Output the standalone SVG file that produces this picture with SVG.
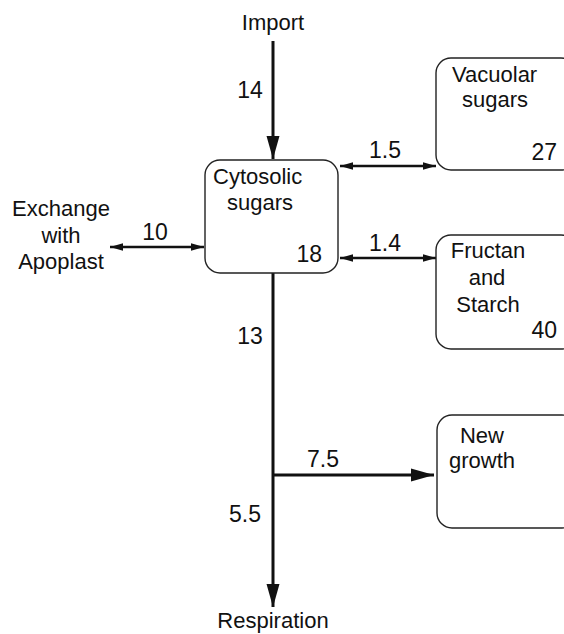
<svg xmlns="http://www.w3.org/2000/svg" width="564" height="634" viewBox="0 0 564 634">
<style>
text{font-family:"Liberation Sans",Arial,sans-serif;font-size:22px;fill:#111}
.num{font-size:23px}
.box{fill:#fff;stroke:#222;stroke-width:1.4}
.thin{stroke:#111;stroke-width:2.4;fill:none}
.thick{stroke:#111;stroke-width:3;fill:none}
</style>
<defs>
<marker id="sm" markerUnits="userSpaceOnUse" markerWidth="14" markerHeight="10" refX="13" refY="5" orient="auto-start-reverse">
<path d="M0,1.2 L13,5 L0,8.8 Z" fill="#111"/>
</marker>
<marker id="big" markerUnits="userSpaceOnUse" markerWidth="24" markerHeight="14" refX="23" refY="7" orient="auto">
<path d="M0,0.5 L23,7 L0,13.5 Z" fill="#111"/>
</marker>
</defs>
<rect width="564" height="634" fill="#fff"/>
<g id="connectors">
<line class="thick" x1="273" y1="41" x2="273" y2="159" marker-end="url(#big)"/>
<line class="thin" x1="110" y1="247" x2="204" y2="247" marker-start="url(#sm)" marker-end="url(#sm)"/>
<line class="thin" x1="340" y1="166" x2="436" y2="166" marker-start="url(#sm)" marker-end="url(#sm)"/>
<line class="thin" x1="340" y1="258" x2="436" y2="258" marker-start="url(#sm)" marker-end="url(#sm)"/>
<line class="thick" x1="273" y1="273" x2="273" y2="607" marker-end="url(#big)"/>
<line class="thick" x1="273" y1="475" x2="434" y2="475" marker-end="url(#big)"/>
<text class="num" x="250" y="98" text-anchor="middle">14</text>
<text class="num" x="155" y="240" text-anchor="middle">10</text>
<text class="num" x="385" y="158" text-anchor="middle">1.5</text>
<text class="num" x="385" y="251" text-anchor="middle">1.4</text>
<text class="num" x="250" y="344" text-anchor="middle">13</text>
<text class="num" x="323" y="467" text-anchor="middle">7.5</text>
<text class="num" x="245" y="522" text-anchor="middle">5.5</text>
</g>
<g id="import"><text x="273" y="30" text-anchor="middle">Import</text></g>
<g id="apoplast">
<text x="61" y="216" text-anchor="middle">Exchange</text>
<text x="61" y="243" text-anchor="middle">with</text>
<text x="61" y="269" text-anchor="middle">Apoplast</text>
</g>
<g id="cytosolic">
<rect class="box" x="205" y="160" width="133" height="113" rx="15"/>
<text x="213" y="184">Cytosolic</text>
<text x="227" y="210">sugars</text>
<text class="num" x="322" y="262" text-anchor="end">18</text>
</g>
<g id="vacuolar">
<rect class="box" x="436" y="58" width="140" height="112" rx="15"/>
<text x="452" y="82">Vacuolar</text>
<text x="462" y="107">sugars</text>
<text class="num" x="557" y="160" text-anchor="end">27</text>
</g>
<g id="fructan">
<rect class="box" x="436" y="235" width="140" height="114" rx="15"/>
<text x="488" y="258" text-anchor="middle">Fructan</text>
<text x="487" y="285" text-anchor="middle">and</text>
<text x="488" y="312" text-anchor="middle">Starch</text>
<text class="num" x="557" y="338" text-anchor="end">40</text>
</g>
<g id="growth">
<rect class="box" x="437" y="415" width="140" height="113" rx="15"/>
<text x="482" y="443" text-anchor="middle">New</text>
<text x="482" y="468" text-anchor="middle">growth</text>
</g>
<g id="respiration"><text x="273" y="628" text-anchor="middle">Respiration</text></g>
</svg>
